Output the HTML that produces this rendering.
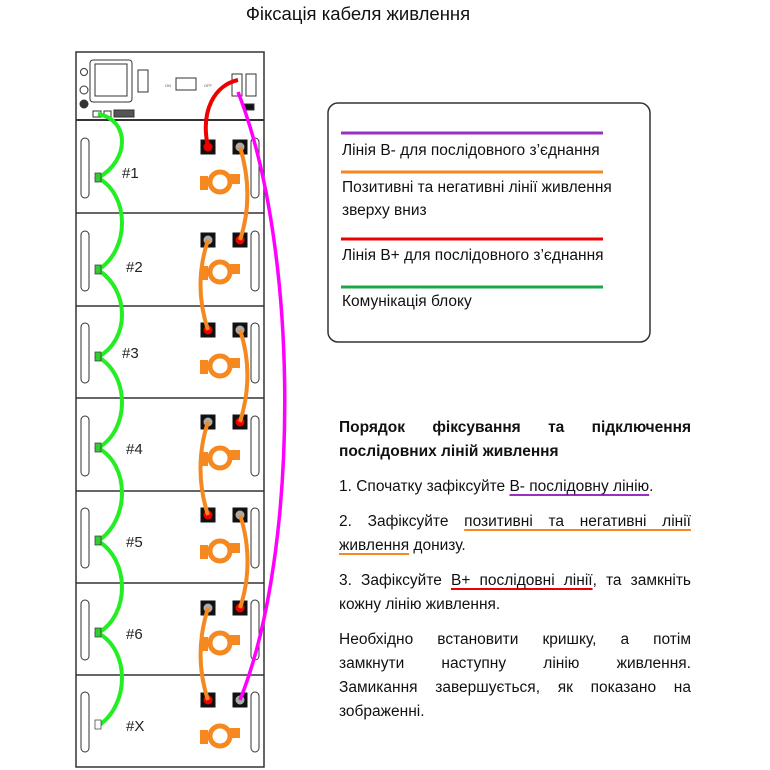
<!DOCTYPE html>
<html><head><meta charset="utf-8"><style>
body{margin:0;width:770px;height:770px;background:#fff;overflow:hidden;position:relative;font-family:"Liberation Sans","Noto Sans CJK SC",sans-serif;color:#111}
.l{position:absolute;left:339px;width:352px;font-size:15.5px;line-height:18px;white-space:nowrap}
.j{text-align:justify;text-align-last:justify;white-space:normal}
.b{font-weight:bold}
.u{text-decoration:underline;text-underline-offset:3px;text-decoration-thickness:2px}
</style></head><body>
<svg width="770" height="770" style="position:absolute;left:0;top:0" font-family="Liberation Sans, sans-serif">
<text x="358" y="20" font-size="18.5" text-anchor="middle" fill="#111">Фіксація кабеля живлення</text>
<rect x="76" y="52" width="188" height="715" fill="#fff" stroke="#333" stroke-width="1.5"/>
<line x1="76" y1="120" x2="264" y2="120" stroke="#333" stroke-width="2"/>
<g stroke="#333" fill="none">
<rect x="90" y="60" width="42" height="42" rx="3"/><rect x="95" y="64" width="32" height="32"/>
<rect x="138" y="70" width="10" height="22"/>
<circle cx="84" cy="72" r="3.5"/><circle cx="84" cy="90" r="4"/><circle cx="84" cy="104" r="4" fill="#333"/>
<rect x="176" y="78" width="20" height="12"/><rect x="232" y="74" width="10" height="22"/><rect x="246" y="74" width="10" height="22"/>
<rect x="93" y="111" width="8" height="6"/><rect x="104" y="111" width="7" height="6"/><rect x="114" y="110" width="20" height="7" fill="#555"/>
<rect x="244" y="104" width="10" height="6" fill="#111"/>
</g>
<text x="165" y="87" font-size="4" fill="#555">ON</text><text x="204" y="87" font-size="4" fill="#555">OFF</text>
<g stroke="#333" stroke-width="1.5" fill="#fff">
<line x1="76" y1="213" x2="264" y2="213"/><line x1="76" y1="306" x2="264" y2="306"/><line x1="76" y1="398" x2="264" y2="398"/>
<line x1="76" y1="491" x2="264" y2="491"/><line x1="76" y1="583" x2="264" y2="583"/><line x1="76" y1="675" x2="264" y2="675"/>
</g>
<g stroke="#333" fill="#fff" stroke-width="1">
<rect x="81" y="138" width="8" height="60" rx="4"/><rect x="251" y="138" width="8" height="60" rx="4"/>
<rect x="81" y="231" width="8" height="60" rx="4"/><rect x="251" y="231" width="8" height="60" rx="4"/>
<rect x="81" y="323" width="8" height="60" rx="4"/><rect x="251" y="323" width="8" height="60" rx="4"/>
<rect x="81" y="416" width="8" height="60" rx="4"/><rect x="251" y="416" width="8" height="60" rx="4"/>
<rect x="81" y="508" width="8" height="60" rx="4"/><rect x="251" y="508" width="8" height="60" rx="4"/>
<rect x="81" y="600" width="8" height="60" rx="4"/><rect x="251" y="600" width="8" height="60" rx="4"/>
<rect x="81" y="692" width="8" height="60" rx="4"/><rect x="251" y="692" width="8" height="60" rx="4"/>
</g>
<g font-size="15" fill="#222">
<text x="122" y="178">#1</text><text x="126" y="272">#2</text><text x="122" y="358">#3</text><text x="126" y="454">#4</text><text x="126" y="547">#5</text><text x="126" y="639">#6</text><text x="126" y="731">#X</text>
</g>
<path d="M98,114 C130,120 130,160 98,178 C130,195 130,250 98,270 C130,290 130,340 98,357 C130,375 130,430 98,448 C130,465 130,520 98,541 C130,560 130,615 98,633 C130,650 130,705 98,726" stroke="#22ee22" stroke-width="4" fill="none"/>
<g fill="#3c3" stroke="#333" stroke-width=".7"><rect x="95" y="173" width="6" height="9"/><rect x="95" y="265" width="6" height="9"/><rect x="95" y="352" width="6" height="9"/><rect x="95" y="443" width="6" height="9"/><rect x="95" y="536" width="6" height="9"/><rect x="95" y="628" width="6" height="9"/><rect x="95" y="720" width="6" height="9" fill="#fff"/></g>
<g fill="none" stroke="#f5891f" stroke-width="5">
<circle cx="220" cy="182" r="10"/><circle cx="220" cy="272" r="10"/><circle cx="220" cy="366" r="10"/><circle cx="220" cy="458" r="10"/><circle cx="220" cy="551" r="10"/><circle cx="220" cy="643" r="10"/><circle cx="220" cy="736" r="10"/>
</g>
<g fill="#f5891f"><rect x="200" y="176" width="8" height="14"/><rect x="230" y="174" width="10" height="10"/><rect x="200" y="266" width="8" height="14"/><rect x="230" y="264" width="10" height="10"/><rect x="200" y="360" width="8" height="14"/><rect x="230" y="358" width="10" height="10"/><rect x="200" y="452" width="8" height="14"/><rect x="230" y="450" width="10" height="10"/><rect x="200" y="545" width="8" height="14"/><rect x="230" y="543" width="10" height="10"/><rect x="200" y="637" width="8" height="14"/><rect x="230" y="635" width="10" height="10"/><rect x="200" y="730" width="8" height="14"/><rect x="230" y="728" width="10" height="10"/></g>
<g stroke="#111" stroke-width="1">
<rect x="201" y="140" width="14" height="14" fill="#111"/><circle cx="208" cy="147" r="5" fill="#e00"/>
<rect x="233" y="140" width="14" height="14" fill="#111"/><circle cx="240" cy="147" r="5" fill="#aaa"/>
<rect x="201" y="233" width="14" height="14" fill="#111"/><circle cx="208" cy="240" r="5" fill="#aaa"/>
<rect x="233" y="233" width="14" height="14" fill="#111"/><circle cx="240" cy="240" r="5" fill="#e00"/>
<rect x="201" y="323" width="14" height="14" fill="#111"/><circle cx="208" cy="330" r="5" fill="#e00"/>
<rect x="233" y="323" width="14" height="14" fill="#111"/><circle cx="240" cy="330" r="5" fill="#aaa"/>
<rect x="201" y="415" width="14" height="14" fill="#111"/><circle cx="208" cy="422" r="5" fill="#aaa"/>
<rect x="233" y="415" width="14" height="14" fill="#111"/><circle cx="240" cy="422" r="5" fill="#e00"/>
<rect x="201" y="508" width="14" height="14" fill="#111"/><circle cx="208" cy="515" r="5" fill="#e00"/>
<rect x="233" y="508" width="14" height="14" fill="#111"/><circle cx="240" cy="515" r="5" fill="#aaa"/>
<rect x="201" y="601" width="14" height="14" fill="#111"/><circle cx="208" cy="608" r="5" fill="#aaa"/>
<rect x="233" y="601" width="14" height="14" fill="#111"/><circle cx="240" cy="608" r="5" fill="#e00"/>
<rect x="201" y="693" width="14" height="14" fill="#111"/><circle cx="208" cy="700" r="5" fill="#e00"/>
<rect x="233" y="693" width="14" height="14" fill="#111"/><circle cx="240" cy="700" r="5" fill="#aaa"/>
</g>
<g stroke="#f5891f" stroke-width="4" fill="none">
<path d="M240,147 C250,180 250,210 240,240"/><path d="M208,240 C198,270 198,300 208,330"/>
<path d="M240,330 C250,360 250,390 240,422"/><path d="M208,422 C198,452 198,485 208,515"/>
<path d="M240,515 C250,545 250,578 240,608"/><path d="M208,608 C198,640 198,670 208,700"/>
</g>
<path d="M208,147 C200,110 215,85 238,80" stroke="#e00" stroke-width="4" fill="none"/>
<path d="M238,92 C300,250 300,550 240,700" stroke="#f0f" stroke-width="3.5" fill="none"/>
<rect x="328" y="103" width="322" height="239" rx="10" fill="#fff" stroke="#333" stroke-width="1.5"/>
<line x1="341" y1="133" x2="603" y2="133" stroke="#9b30c0" stroke-width="3"/>
<line x1="341" y1="172" x2="603" y2="172" stroke="#f5891f" stroke-width="3"/>
<line x1="341" y1="239" x2="603" y2="239" stroke="#e00" stroke-width="3"/>
<line x1="341" y1="287" x2="603" y2="287" stroke="#1aa84a" stroke-width="3"/>
<g font-size="15.5" fill="#111">
<text x="342" y="155">Лінія B- для послідовного з’єднання</text>
<text x="342" y="192">Позитивні та негативні лінії живлення</text>
<text x="342" y="215">зверху вниз</text>
<text x="342" y="260">Лінія B+ для послідовного з’єднання</text>
<text x="342" y="306">Комунікація блоку</text>
</g>
</svg>
<div class="l j b" style="top:419px">Порядок фіксування та підключення</div>
<div class="l b" style="top:443px">послідовних ліній живлення</div>
<div class="l" style="top:478px">1. Спочатку зафіксуйте <span class="u" style="text-decoration-color:#9b30c0">B- послідовну лінію</span>.</div>
<div class="l j" style="top:513px">2. Зафіксуйте <span class="u" style="text-decoration-color:#f5891f">позитивні та негативні лінії</span></div>
<div class="l" style="top:537px"><span class="u" style="text-decoration-color:#f5891f">живлення</span> донизу.</div>
<div class="l j" style="top:572px">3. Зафіксуйте <span class="u" style="text-decoration-color:#e00">B+ послідовні лінії</span>, та замкніть</div>
<div class="l" style="top:596px">кожну лінію живлення.</div>
<div class="l j" style="top:631px">Необхідно встановити кришку, а потім</div>
<div class="l j" style="top:655px">замкнути наступну лінію живлення.</div>
<div class="l j" style="top:679px">Замикання завершується, як показано на</div>
<div class="l" style="top:703px">зображенні.</div>
</body></html>
